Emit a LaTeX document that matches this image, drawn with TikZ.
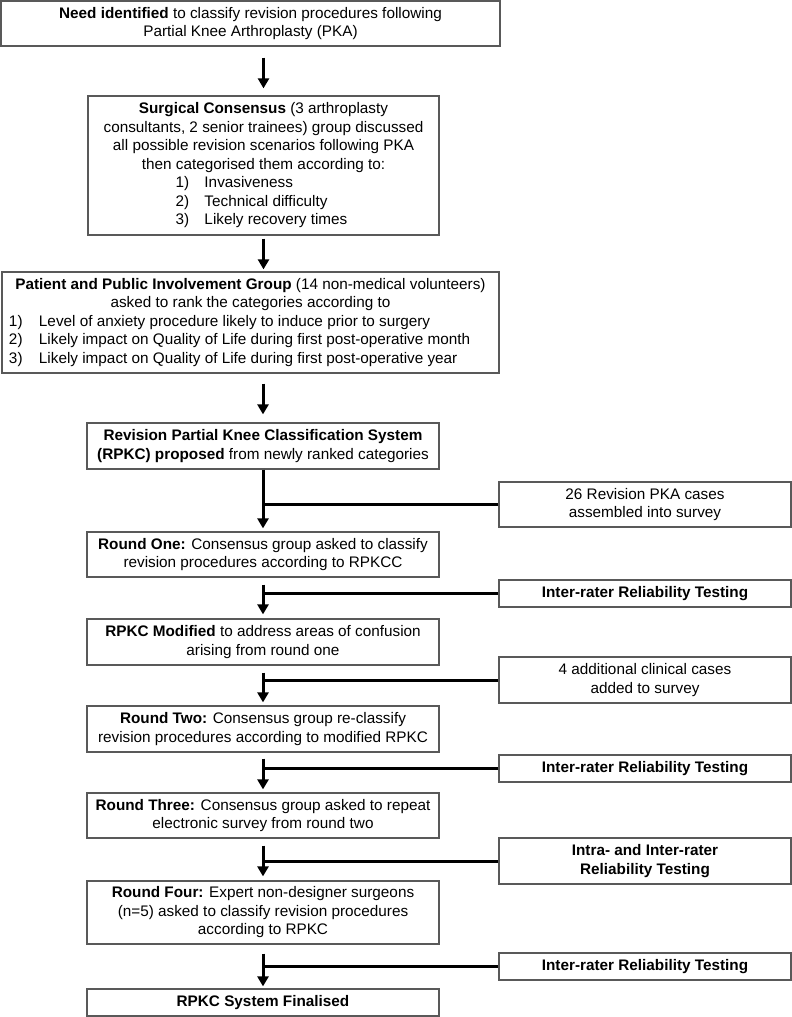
\documentclass[tikz,border=0pt]{standalone}
\usepackage{fontspec}
\setmainfont{Liberation Sans}
\usetikzlibrary{arrows.meta,positioning,calc}

\begin{document}
\begin{tikzpicture}
[x=1pt,y=-1pt,>={Triangle[length=10pt,width=11pt]},
flowbox/.style = {draw=black!65, line width=1.3pt, inner sep=0pt, align=center, font=\fontsize{15.3}{18.5}\selectfont},
flowarrow/.style = {->, line width=3pt},
flowline/.style = {line width=3pt},]
\useasboundingbox (0,0) rectangle (792,1017);
% main column
\node (need) at (250.5,23.5)[flowbox,minimum width=499,minimum height=45] {\textbf{Need identified} to classify revision procedures following\\Partial Knee Arthroplasty (PKA)};
\node (cons) at (263.5,165.5)[flowbox,minimum width=351,minimum height=139] {\textbf{Surgical Consensus} (3 arthroplasty\\consultants, 2 senior trainees) group discussed\\all possible revision scenarios following PKA\\then categorised them according to:\\
\makebox[176pt][l]{\makebox[29pt][l]{1)}Invasiveness}\\
\makebox[176pt][l]{\makebox[29pt][l]{2)}Technical difficulty}\\
\makebox[176pt][l]{\makebox[29pt][l]{3)}Likely recovery times}};
\node (ppi) at (250.5,322.5)[flowbox,minimum width=497,minimum height=101] {\textbf{Patient and Public Involvement Group} (14 non-medical volunteers)\\asked to rank the categories according to\\
\makebox[483pt][l]{\makebox[30pt][l]{1)}Level of anxiety procedure likely to induce prior to surgery}\\
\makebox[483pt][l]{\makebox[30pt][l]{2)}Likely impact on Quality of Life during first post-operative month}\\
\makebox[483pt][l]{\makebox[30pt][l]{3)}Likely impact on Quality of Life during first post-operative year}};
\node (rpkc) at (263,446)[flowbox,minimum width=352,minimum height=46] {\textbf{Revision Partial Knee Classification System}\\\textbf{(RPKC) proposed} from newly ranked categories};
\node (rone) at (263,554.5)[flowbox,minimum width=352,minimum height=45] {\textbf{Round One:} Consensus group asked to classify\\revision procedures according to RPKCC};
\node (modif) at (263,642)[flowbox,minimum width=352,minimum height=46] {\textbf{RPKC Modified} to address areas of confusion\\arising from round one};
\node (rtwo) at (263,729)[flowbox,minimum width=352,minimum height=46] {\textbf{Round Two:} Consensus group re-classify\\revision procedures according to modified RPKC};
\node (rthree) at (263,815.5)[flowbox,minimum width=352,minimum height=45] {\textbf{Round Three:} Consensus group asked to repeat\\electronic survey from round two};
\node (rfour) at (263,912.5)[flowbox,minimum width=352,minimum height=63] {\textbf{Round Four:} Expert non-designer surgeons\\(n=5) asked to classify revision procedures\\according to RPKC};
\node (final) at (263,1002.5)[flowbox,minimum width=352,minimum height=27] {\textbf{RPKC System Finalised}};
% side boxes
\node (cases) at (645,504.5)[flowbox,minimum width=292,minimum height=45] {26 Revision PKA cases\\assembled into survey};
\node (irrA) at (645,593.5)[flowbox,minimum width=292,minimum height=27] {\textbf{Inter-rater Reliability Testing}};
\node (added) at (645,680)[flowbox,minimum width=292,minimum height=46] {4 additional clinical cases\\added to survey};
\node (irrB) at (645,768.5)[flowbox,minimum width=292,minimum height=27] {\textbf{Inter-rater Reliability Testing}};
\node (intra) at (645,861)[flowbox,minimum width=292,minimum height=46] {\textbf{Intra- and Inter-rater}\\\textbf{Reliability Testing}};
\node (irrC) at (645,966.5)[flowbox,minimum width=292,minimum height=27] {\textbf{Inter-rater Reliability Testing}};
% arrows down
\draw[flowarrow,shorten <=11pt,shorten >=7pt] (need.south -| cons.north) -- (cons.north);
\draw[flowarrow,shorten <=3pt,shorten >=2pt] (cons.south) -- (cons.south |- ppi.north);
\draw[flowarrow,shorten <=10pt,shorten >=8pt] (ppi.south -| rpkc.north) -- (rpkc.north);
\draw[flowarrow,shorten >=3pt] (rpkc.south) -- (rone.north);
\draw[flowarrow,shorten <=7pt,shorten >=4pt] (rone.south) -- (modif.north);
\draw[flowarrow,shorten <=7pt,shorten >=3pt] (modif.south) -- (rtwo.north);
\draw[flowarrow,shorten <=6pt,shorten >=3pt] (rtwo.south) -- (rthree.north);
\draw[flowarrow,shorten <=7pt,shorten >=4pt] (rthree.south) -- (rfour.north);
\draw[flowarrow,shorten <=9pt,shorten >=2pt] (rfour.south) -- (final.north);
% side branches
\draw[flowline] (cases.west) -- (cases.west -| rpkc.south);
\draw[flowline] (irrA.west) -- (irrA.west -| rone.south);
\draw[flowline] (added.west) -- (added.west -| modif.south);
\draw[flowline] (irrB.west) -- (irrB.west -| rtwo.south);
\draw[flowline] (intra.west) -- (intra.west -| rthree.south);
\draw[flowline] (irrC.west) -- (irrC.west -| rfour.south);
\end{tikzpicture}
\end{document}
